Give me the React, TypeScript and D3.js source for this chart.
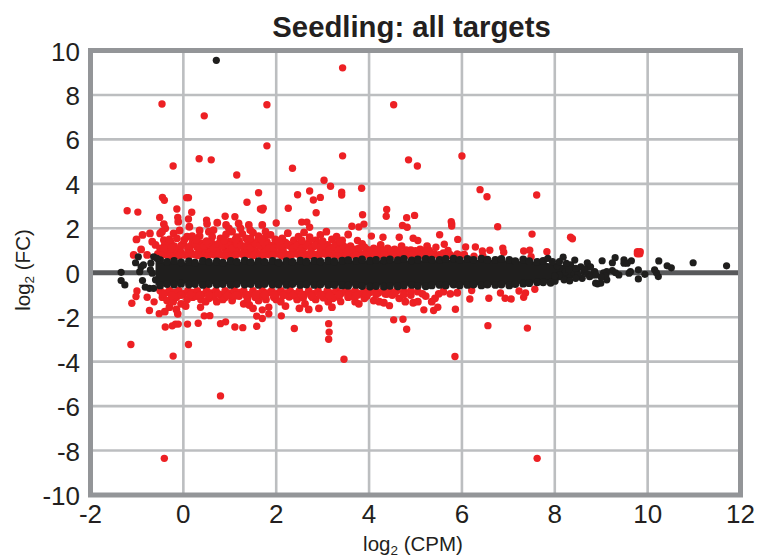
import React from "react";
import * as d3 from "d3";

type P = [number, number];

const xTicks = [-2, 0, 2, 4, 6, 8, 10, 12];
const yTicks = [-10, -8, -6, -4, -2, 0, 2, 4, 6, 8, 10];

const redOutliersUp: P[] = [
  [-0.46,7.59],[1.8,7.56],[4.53,7.56],[3.43,9.22],[0.45,7.06],[1.8,5.71],[-0.22,4.8],[0.34,5.13],[0.6,5.08],[3.43,5.26],
  [4.85,5.08],[5.04,4.8],[1.15,4.4],[2.35,4.7],[3.03,4.16],[3.17,3.89],[3.84,3.8],[1.62,3.6],[2.46,3.51],[2.72,3.68],
  [3.41,3.62],[3.41,3.5],[2.95,3.39],[2.8,3.27],[-0.45,3.39],[-0.41,3.26],[0.07,3.38],[0.11,3.38],[1.37,3.17],[-1.21,2.79],
  [-0.98,2.73],[-0.14,2.87],[-0.12,2.49],[0.18,2.72],[0.11,2.42],[-0.51,2.49],[1.66,2.87],[1.7,2.82],[1.72,2.9],[2.26,2.9],
  [2.86,2.7],[3.86,2.61],[4.38,2.85],[4.37,2.54],[4.98,2.58],[4.81,2.48],[0.9,2.54],[1.11,2.52],[0.5,2.37],[2.0,2.24],
  [2.55,2.28],[2.66,2.28],[2.72,2.05],[3.89,2.19],[3.63,2.09],[3.78,2.06],[4.72,2.13],[4.82,2.05],
  [6.0,5.25],[6.39,3.74],[6.54,3.42],[7.61,3.5],[5.77,2.3],[5.78,2.2],[5.78,2.1],[6.77,2.07],[7.51,1.74],[5.52,1.71],
  [8.34,1.6],[8.38,1.53],[5.91,1.5],[9.78,0.95],[9.83,0.85],[9.78,0.85],[9.84,0.95],[7.83,0.95],[6.08,1.16],[6.29,1.16],
  [6.6,1.01],[6.88,1.11],[6.9,0.92],[7.33,0.98],[7.46,1.01],[7.49,0.72],[6.44,0.98],[6.45,0.77],[6.26,0.75],[5.62,1.28],
  [5.44,1.15],[5.7,1.0],[5.9,0.85],[5.3,1.0],[5.05,1.45],[4.95,1.55],[4.65,1.6],[4.3,1.6],[4.05,1.65],[3.75,1.45],
];

const redBandUp: P[] = [
  [-0.42,2.19],[-0.39,2.0],[-0.11,2.3],[0.13,2.07],[0.51,2.2],[0.73,2.25],[0.92,2.15],[0.98,2.0],[1.19,2.22],[1.23,2.0],[1.41,2.15],[1.44,1.92],[1.7,2.15],[1.77,1.85],
  [-0.72,1.77],[-0.88,1.7],[-1.01,1.5],[-0.91,1.05],[-1.07,0.8],[-0.78,0.8],[-0.67,1.4],[-0.5,1.77],[-0.42,1.47],[-0.46,1.85],[-0.21,1.77],[-0.08,1.9],[-0.27,1.35],[-0.14,1.55],[0.08,1.62],[0.19,1.65],[0.35,1.9],[0.35,1.65],[0.55,1.85],[0.65,1.92],[0.62,1.62],[0.8,1.55],[0.92,1.72],[1.05,1.85],[1.15,1.6],[1.27,1.75],[1.35,1.55],[1.5,1.8],[1.62,1.65],[1.75,1.55],[1.88,1.7],[1.98,1.5],
  [2.13,1.55],[2.25,1.78],[2.38,1.45],[2.48,1.62],[2.6,1.82],[2.72,1.6],[2.85,1.45],[2.95,1.7],[3.08,1.85],[3.2,1.5],[3.3,1.62],[3.42,1.45],[3.55,1.72],
  [-0.6,1.25],[-0.5,1.1],[-0.4,1.25],[-0.3,1.0],[-0.2,1.2],[-0.1,1.05],[0.0,1.3],[0.1,1.1],[0.2,1.38],[0.3,1.15],[0.4,1.32],[0.5,1.05],[0.6,1.38],[0.7,1.2],[0.8,1.35],[0.9,1.1],[1.0,1.4],[1.1,1.2],[1.2,1.42],[1.3,1.12],[1.4,1.35],[1.5,1.2],[1.6,1.42],[1.7,1.15],[1.8,1.38],[1.9,1.22],[2.0,1.32],[2.1,1.12],[2.2,1.35],[2.3,1.2],[2.4,1.15],[2.5,1.3],[2.6,1.15],[2.7,1.35],[2.8,1.18],[2.9,1.3],[3.0,1.1],[3.1,1.25],[3.2,1.1],[3.3,1.3],[3.4,1.12],[3.5,1.05],[3.6,1.2],[3.7,1.05],[3.85,1.3],[3.95,1.05],[4.1,1.1],[4.25,1.25],[4.4,1.1],[4.55,1.05],[4.7,1.2],[4.9,1.02],[5.1,1.05],[5.25,1.2],
  [-0.55,0.85],[-0.45,0.95],[-0.35,0.8],[-0.25,0.95],[-0.15,0.8],[-0.05,0.92],[0.05,0.8],[0.15,0.95],[0.25,0.82],[0.35,0.95],[0.45,0.8],[0.55,0.9],[0.65,0.82],[0.75,0.98],[0.85,0.8],[0.95,0.92],[1.05,0.82],[1.15,0.98],[1.25,0.85],[1.35,0.95],[1.45,0.82],[1.55,0.98],[1.65,0.85],[1.75,0.95],[1.85,0.82],[1.95,0.98],[2.05,0.85],[2.15,0.95],[2.25,0.82],[2.35,0.95],[2.45,0.85],[2.55,0.98],[2.65,0.82],[2.75,0.92],[2.85,0.82],[2.95,0.95],[3.05,0.85],[3.15,0.92],[3.25,0.82],[3.35,0.92],[3.45,0.82],[3.55,0.9],[3.65,0.8],[3.75,0.88],[3.85,0.82],[3.95,0.88],[4.05,0.8],[4.15,0.9],[4.25,0.8],[4.35,0.88],[4.45,0.8],[4.55,0.85],[4.65,0.8],[4.75,0.88],[4.85,0.8],[4.95,0.85],[5.05,0.8],[5.15,0.85],[5.25,0.78],[5.4,0.85],[5.5,0.78],[5.6,0.88],[5.75,0.8],[5.95,0.78],[6.05,0.82],
];

const redBandMid: P[] = [
  [-0.42,1.08],[-0.25,1.15],[-0.05,1.22],[0.15,1.2],[0.25,1.3],[0.35,1.12],[0.45,1.2],[0.55,1.28],[0.65,1.1],[0.75,1.3],[0.85,1.2],[0.95,1.28],[1.05,1.1],[1.15,1.32],[1.25,1.22],[1.35,1.2],[1.45,1.12],[1.55,1.32],[1.65,1.22],[1.75,1.3],[1.85,1.12],[1.95,1.1],[2.05,1.22],[2.15,1.15],[2.25,1.28],[2.35,1.1],[2.45,1.22],[2.55,1.08],[2.65,1.25],[2.75,1.1],[2.85,1.22],[2.95,1.15],[3.05,1.2],[3.15,1.05],[3.25,1.18],[3.35,1.02],[3.45,1.2],[3.55,1.0],[3.65,1.02],[3.78,1.1],[3.9,1.15],[4.02,1.0],[4.18,1.02],[4.32,1.0],[4.48,1.0],[4.62,1.0],[4.8,1.02],[5.0,0.98],[5.2,0.98],
  [-0.3,1.5],[0.02,1.48],[0.28,1.48],[0.5,1.42],[0.88,1.45],[1.12,1.5],[1.45,1.55],[1.68,1.5],[2.05,1.42],[2.55,1.45],[3.0,1.42],[3.38,1.38],
  [-0.48,0.78],[-0.28,0.76],[-0.08,0.78],[0.12,0.76],[0.32,0.78],[0.52,0.76],[0.72,0.78],[0.92,0.76],[1.12,0.78],[1.32,0.76],[1.52,0.78],[1.72,0.76],[1.92,0.78],[2.12,0.76],[2.32,0.78],[2.52,0.76],[2.72,0.78],[2.92,0.76],[3.12,0.78],[3.32,0.76],[3.52,0.78],[3.72,0.78],[3.92,0.8],[4.12,0.8],[4.32,0.8],[4.52,0.8],[4.72,0.82],[4.92,0.8],[5.12,0.8],[5.32,0.8],[5.52,0.8],[5.72,0.82],
];

const redOutliersDown: P[] = [
  [-1.13,-3.23],[0.11,-3.23],[-0.22,-3.75],[0.8,-5.54],[-0.41,-8.35],[3.46,-3.89],[3.13,-2.29],[3.14,-2.67],[3.13,-2.99],[2.39,-2.51],
  [1.58,-2.41],[1.11,-2.44],[1.28,-2.47],[0.8,-2.29],[0.91,-2.21],[0.32,-2.27],[0.09,-2.31],[-0.39,-2.44],[-0.24,-2.39],[-0.17,-2.31],
  [-0.11,-2.31],[2.11,-1.94],[1.7,-2.06],[1.58,-1.95],[1.84,-1.85],[1.7,-1.67],[1.84,-1.55],[0.45,-1.94],[0.57,-1.93],[-0.52,-1.84],
  [-0.73,-1.7],[-1.11,-1.37],[-1.02,-1.07],[-1.0,-0.82],[-0.78,-1.1],[-0.63,-1.31],[0.37,-1.55],[3.39,-1.3],[4.38,-0.97],[4.44,-1.48],
  [4.53,-2.12],[4.73,-2.09],[4.81,-2.54],[5.86,-1.64],[5.18,-1.67],[5.39,-1.7],[5.48,-1.55],[6.56,-2.38],[7.41,-2.49],[5.85,-3.77],
  [7.62,-8.35],[6.17,-1.18],[6.58,-1.15],[6.83,-0.91],[6.93,-1.15],[7.06,-1.18],[7.23,-0.82],[7.37,-0.91],[7.33,-1.1],[7.57,-0.74],[6.21,-0.8],
];

const redBandDown: P[] = [
  [-0.45,-1.1],[-0.35,-1.25],[-0.4,-1.75],[-0.3,-1.55],[-0.22,-1.3],[-0.15,-1.65],[-0.12,-1.85],[-0.05,-1.4],[0.05,-1.5],[0.2,-1.1],[0.38,-1.2],[0.55,-1.15],[0.72,-1.3],[0.9,-1.1],[1.05,-1.25],[1.2,-1.05],[1.3,-1.4],[1.42,-1.45],[1.5,-1.6],[1.62,-1.25],[1.78,-1.2],[1.95,-1.1],[2.1,-1.3],[2.2,-1.5],[2.45,-1.2],[2.5,-1.6],[2.62,-1.4],[2.7,-1.65],[2.85,-1.2],[2.92,-1.6],[3.12,-1.3],[3.2,-1.55],[3.35,-1.1],[3.55,-1.1],[3.7,-1.3],[3.78,-1.4],[3.9,-1.15],[4.1,-1.25],[4.22,-1.3],[4.32,-1.35],[4.65,-1.15],[4.78,-1.3],[4.95,-1.35],[5.05,-1.3],[5.22,-1.05],[5.35,-1.3],[5.42,-1.15],[5.5,-0.95],[5.6,-0.85],[5.75,-0.95],[5.9,-0.9],[4.9,-1.0],[5.05,-0.85],[5.15,-0.95],
  [-0.5,-0.8],[-0.4,-0.92],[-0.3,-0.8],[-0.2,-0.9],[-0.1,-0.8],[0.0,-0.95],[0.1,-0.8],[0.2,-0.9],[0.3,-0.82],[0.4,-0.98],[0.5,-0.8],[0.6,-0.92],[0.7,-0.82],[0.8,-1.0],[0.9,-0.82],[1.0,-0.92],[1.1,-0.8],[1.2,-0.9],[1.3,-0.82],[1.4,-1.0],[1.5,-0.82],[1.6,-0.95],[1.7,-0.82],[1.8,-0.92],[1.9,-0.82],[2.0,-0.95],[2.1,-0.82],[2.2,-0.92],[2.3,-0.82],[2.4,-0.95],[2.5,-0.82],[2.6,-0.98],[2.7,-0.82],[2.8,-0.95],[2.9,-0.82],[3.0,-0.98],[3.1,-0.82],[3.2,-0.92],[3.3,-0.82],[3.4,-0.92],[3.5,-0.8],[3.6,-0.92],[3.7,-0.82],[3.8,-0.95],[3.9,-0.82],[4.0,-0.9],[4.1,-0.82],[4.2,-0.9],[4.3,-0.8],[4.45,-0.82],[4.6,-0.8],[4.75,-0.85],[4.9,-0.82],
  [-0.15,-1.1],[0.08,-1.2],[0.28,-1.05],[0.48,-1.3],[0.65,-1.08],[0.85,-1.2],[1.1,-1.05],[1.38,-1.18],[1.55,-1.1],[1.72,-1.05],[2.0,-1.2],[2.28,-1.08],[2.58,-1.12],[2.78,-1.1],[3.02,-1.12],[3.22,-1.15],[3.62,-1.05],[3.95,-1.05],[4.5,-1.0],
  [-0.45,-0.95],[-0.25,-1.02],[-0.05,-1.0],[0.15,-0.98],[0.35,-1.02],[0.55,-1.02],[0.75,-0.95],[0.95,-1.02],[1.15,-1.0],[1.35,-1.0],[1.55,-0.98],[1.75,-0.98],[1.95,-1.0],[2.15,-1.02],[2.35,-1.02],[2.55,-0.98],[2.75,-1.02],[2.95,-1.0],[3.15,-1.02],[3.35,-0.98],[3.55,-1.0],[3.75,-1.0],[3.95,-0.95],[4.15,-0.98],[4.35,-0.95],[4.55,-0.92],[4.75,-0.98],
];

const coreX = [-0.6, -0.4, 0, 1, 2, 3, 4, 5, 5.6, 6.2, 6.8, 7.3, 7.8, 8.2, 8.55];
const coreTop = [0.55, 0.5, 0.46, 0.48, 0.5, 0.5, 0.55, 0.55, 0.57, 0.57, 0.57, 0.52, 0.45, 0.35, 0.25];
const coreBottom = [-0.55, -0.52, -0.5, -0.52, -0.54, -0.56, -0.58, -0.58, -0.56, -0.56, -0.55, -0.5, -0.4, -0.32, -0.2];

const blackEdges: P[] = [
  [-0.5,0.57],[-0.35,0.49],[-0.2,0.53],[-0.05,0.47],[0.12,0.51],[0.25,0.45],[0.42,0.53],[0.55,0.49],[0.72,0.51],[0.85,0.45],[1.02,0.53],[1.15,0.49],[1.32,0.54],[1.45,0.48],[1.62,0.52],[1.75,0.49],[1.92,0.53],[2.05,0.47],[2.22,0.52],[2.35,0.49],[2.52,0.54],[2.65,0.5],[2.82,0.53],[2.95,0.51],[3.12,0.55],[3.25,0.51],[3.42,0.55],[3.55,0.57],[3.72,0.53],[3.85,0.6],[4.02,0.54],[4.15,0.58],[4.32,0.56],[4.45,0.6],[4.62,0.57],[4.75,0.62],[4.92,0.56],[5.05,0.6],[5.22,0.62],[5.35,0.59],[5.52,0.58],[5.65,0.62],[5.82,0.64],[5.95,0.58],[6.12,0.62],[6.25,0.58],[6.42,0.64],[6.55,0.59],[6.72,0.58],[6.85,0.62],[7.02,0.58],[7.15,0.52],[7.32,0.6],[7.45,0.52],[7.62,0.49],[7.75,0.53],
  [-0.5,-0.57],[-0.35,-0.51],[-0.2,-0.53],[-0.05,-0.49],[0.12,-0.53],[0.25,-0.51],[0.42,-0.55],[0.55,-0.51],[0.72,-0.53],[0.85,-0.51],[1.02,-0.55],[1.15,-0.51],[1.32,-0.53],[1.45,-0.51],[1.62,-0.55],[1.75,-0.51],[1.92,-0.53],[2.05,-0.53],[2.22,-0.55],[2.35,-0.51],[2.52,-0.55],[2.65,-0.53],[2.82,-0.55],[2.95,-0.53],[3.12,-0.55],[3.25,-0.55],[3.42,-0.57],[3.55,-0.58],[3.72,-0.55],[3.85,-0.6],[4.02,-0.62],[4.15,-0.6],[4.32,-0.62],[4.45,-0.59],[4.62,-0.61],[4.75,-0.57],[4.92,-0.55],[5.05,-0.59],[5.22,-0.61],[5.35,-0.57],[5.52,-0.55],[5.65,-0.57],[5.82,-0.53],[5.95,-0.57],[6.12,-0.55],[6.25,-0.53],[6.42,-0.57],[6.55,-0.53],[6.72,-0.55],[6.85,-0.53],[7.02,-0.57],[7.15,-0.51],[7.32,-0.49],[7.45,-0.47],[7.62,-0.43],[7.75,-0.43],[7.91,-0.45],[8.0,-0.37],
];

const blackTail: P[] = [
  [0.71,9.56],
  [-1.34,0.02],[-1.34,-0.35],[-1.26,-0.55],[-1.03,0.45],[-0.97,0.72],[-0.91,0.27],[-0.94,0.05],[-0.86,0.35],[-0.88,-0.35],[-0.82,-0.65],[-0.73,-0.7],[-0.64,-0.7],[-0.6,-0.32],[-0.7,0.43],[-0.67,-0.02],[-0.71,0.13],[-0.64,0.72],[-0.57,0.65],
  [7.85,0.65],[8.18,0.7],[8.43,0.57],[8.7,0.45],[8.73,0.27],[8.56,0.27],[8.34,0.35],[8.23,0.05],[8.84,-0.02],[8.2,-0.32],[8.41,-0.02],[8.32,-0.37],[8.59,-0.25],[8.63,0.05],[8.05,0.3],[8.1,-0.1],[8.3,0.15],[8.5,-0.1],[8.7,-0.05],[8.45,0.2],[7.95,0.5],[8.1,0.5],[8.25,0.42],[8.45,-0.25],[8.0,-0.15],[8.65,0.18],[8.75,-0.18],
  [8.92,-0.5],[9.02,0.54],[9.3,0.68],[9.24,0.45],[9.49,0.58],[9.49,0.43],[9.56,0.43],[9.65,0.54],[10.24,0.53],[10.42,0.31],[10.51,0.22],[10.98,0.45],[11.7,0.31],
  [10.15,0.13],[10.23,-0.17],[10.19,0],[9.94,-0.07],[9.8,-0.28],[9.8,0.13],[9.63,0.05],[9.6,-0.02],[9.38,-0.1],[9.24,0.1],[9.31,0],[9.12,0.05],[9.12,-0.32],[9.05,0],[9.1,-0.15],[8.99,-0.47],[8.88,-0.47],[8.81,-0.1],[8.86,0.05],[8.77,0.27],[8.88,-0.1],[9.0,-0.2],
];

const W = 759, H = 559;
const x = d3.scaleLinear().domain([-2, 12]).range([90.5, 740.5]);
const y = d3.scaleLinear().domain([-10, 10]).range([495, 50.5]);
const ink = "#231f20";
const sans = "'Liberation Sans', Arial, sans-serif";
const red = "#ed2024";
const black = "#1f1e1d";
const R = 3.9;

const coreArea = d3.area<number>()
  .x((d) => x(d))
  .y0((_, i) => y(coreBottom[i]))
  .y1((_, i) => y(coreTop[i]));

function Dots({ data, fill, r = R }: { data: P[]; fill: string; r?: number }) {
  return (
    <g fill={fill}>
      {data.map((d, i) => (
        <circle key={i} cx={x(d[0])} cy={y(d[1])} r={r} />
      ))}
    </g>
  );
}

export default function App() {
  return (
    <svg width={W} height={H} viewBox={`0 0 ${W} ${H}`} style={{ position: "absolute", left: 0, top: 0, background: "#fff" }}>
      <g stroke="#bcbec0" strokeWidth={2.6}>
        {xTicks.slice(1, -1).map((t) => (
          <line key={t} x1={x(t)} x2={x(t)} y1={y(10)} y2={y(-10)} />
        ))}
        {yTicks.slice(1, -1).filter((t) => t !== 0).map((t) => (
          <line key={t} x1={x(-2)} x2={x(12)} y1={y(t)} y2={y(t)} />
        ))}
      </g>
      <line x1={x(-2)} x2={x(12)} y1={y(0)} y2={y(0)} stroke="#58595b" strokeWidth={5} />
      <rect x={x(-2)} y={y(10)} width={x(12) - x(-2)} height={y(-10) - y(10)} fill="none" stroke="#939598" strokeWidth={5} />

      <Dots data={redOutliersUp} fill={red} r={3.7} />
      <Dots data={redBandUp} fill={red} />
      <Dots data={redBandMid} fill={red} />
      <Dots data={redOutliersDown} fill={red} r={3.7} />
      <Dots data={redBandDown} fill={red} />
      <path d={coreArea(coreX) ?? undefined} fill={black} />
      <Dots data={blackEdges} fill={black} />
      <Dots data={blackTail} fill={black} r={3.6} />

      <g fontFamily={sans} fontSize={26} fill={ink}>
        {xTicks.map((t) => (
          <text key={t} x={x(t)} y={523} textAnchor="middle">{t}</text>
        ))}
        {yTicks.map((t) => (
          <text key={t} x={80} y={y(t) + 10} textAnchor="end">{t}</text>
        ))}
      </g>
      <text x={411.5} y={37} textAnchor="middle" fontFamily={sans} fontWeight="bold" fontSize={29.3} fill={ink}>
        Seedling: all targets
      </text>
      <text x={413} y={551} textAnchor="middle" fontFamily={sans} fontSize={20.5} fill={ink}>
        log<tspan fontSize={13.5} dy={4}>2</tspan><tspan dy={-4}> (CPM)</tspan>
      </text>
      <text transform="translate(30,270) rotate(-90)" textAnchor="middle" fontFamily={sans} fontSize={20.5} fill={ink}>
        log<tspan fontSize={13.5} dy={4}>2</tspan><tspan dy={-4}> (FC)</tspan>
      </text>
    </svg>
  );
}
